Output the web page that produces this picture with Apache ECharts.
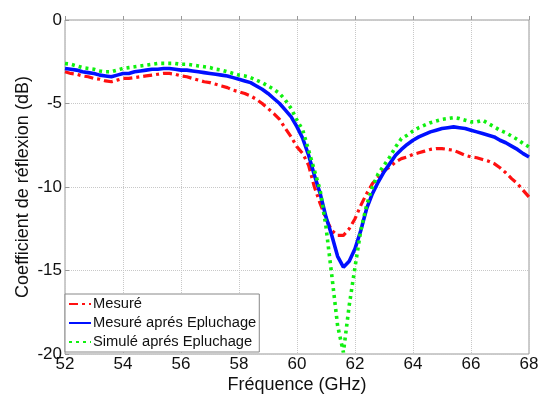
<!DOCTYPE html>
<html><head><meta charset="utf-8">
<script src="https://cdn.jsdelivr.net/npm/echarts@6/dist/echarts.min.js"></script>
<style>html,body{margin:0;padding:0;background:#fff}#c{width:543px;height:394px}</style>
</head><body><div id="c"></div>
<script>
const freq = [52.0,52.2,52.4,52.6,52.8,53.0,53.2,53.4,53.6,53.8,54.0,54.2,54.4,54.6,54.8,55.0,55.2,55.4,55.6,55.8,
56.0,56.2,56.4,56.6,56.8,57.0,57.2,57.4,57.6,57.8,58.0,58.2,58.4,58.6,58.8,59.0,59.2,59.4,59.6,59.8,
60.0,60.2,60.4,60.6,60.8,61.0,61.2,61.4,61.6,61.8,62.0,62.2,62.4,62.6,62.8,63.0,63.2,63.4,63.6,63.8,
64.0,64.2,64.4,64.6,64.8,65.0,65.2,65.4,65.6,65.8,66.0,66.2,66.4,66.6,66.8,67.0,67.2,67.4,67.6,67.8,68.0];

const mesure = [-3.1,-3.2,-3.25,-3.35,-3.4,-3.5,-3.55,-3.65,-3.7,-3.6,-3.5,-3.5,-3.45,-3.4,-3.35,-3.3,-3.25,-3.2,-3.2,-3.25,
-3.35,-3.4,-3.5,-3.6,-3.7,-3.75,-3.85,-3.95,-4.05,-4.2,-4.3,-4.4,-4.55,-4.75,-5.0,-5.3,-5.6,-5.95,-6.5,-7.0,
-7.6,-8.0,-8.7,-10.0,-11.0,-11.9,-12.6,-12.9,-12.9,-12.5,-11.9,-11.1,-10.4,-9.8,-9.4,-9.0,-8.8,-8.5,-8.3,-8.2,
-8.05,-7.95,-7.85,-7.75,-7.7,-7.7,-7.75,-7.8,-7.95,-8.1,-8.2,-8.25,-8.35,-8.45,-8.6,-8.85,-9.15,-9.5,-9.8,-10.2,-10.6];

const mesureEpl = [-2.9,-2.95,-3.0,-3.1,-3.15,-3.2,-3.3,-3.35,-3.4,-3.3,-3.2,-3.2,-3.1,-3.05,-3.0,-2.95,-2.95,-2.9,-2.9,-2.95,
-3.0,-3.0,-3.05,-3.1,-3.15,-3.2,-3.25,-3.3,-3.35,-3.45,-3.55,-3.65,-3.75,-3.95,-4.15,-4.4,-4.7,-5.0,-5.4,-5.8,
-6.4,-7.1,-8.1,-9.3,-10.4,-11.8,-12.9,-14.15,-14.8,-14.45,-13.7,-12.6,-11.3,-10.4,-9.7,-9.1,-8.6,-8.1,-7.75,-7.45,
-7.2,-7.0,-6.85,-6.7,-6.6,-6.5,-6.45,-6.4,-6.45,-6.5,-6.6,-6.7,-6.8,-6.9,-7.0,-7.2,-7.35,-7.55,-7.75,-8.0,-8.2];

const simuleEpl = [-2.6,-2.65,-2.75,-2.85,-2.9,-2.95,-3.05,-3.1,-3.1,-3.0,-2.9,-2.85,-2.8,-2.75,-2.7,-2.65,-2.6,-2.6,-2.6,-2.6,
-2.65,-2.65,-2.7,-2.75,-2.8,-2.85,-2.95,-3.0,-3.1,-3.2,-3.3,-3.35,-3.45,-3.6,-3.75,-3.95,-4.15,-4.4,-4.8,-5.3,
-6.0,-6.6,-7.8,-9.0,-10.2,-12.4,-15.3,-18.3,-19.9,-17.1,-14.8,-12.6,-11.1,-10.0,-9.2,-8.7,-8.2,-7.6,-7.1,-6.9,
-6.65,-6.45,-6.3,-6.15,-6.05,-5.95,-5.9,-5.85,-5.9,-6.0,-6.1,-6.1,-6.0,-6.2,-6.4,-6.6,-6.75,-6.95,-7.15,-7.4,-7.6];

const names = ['Mesuré','Mesuré aprés Epluchage','Simulé aprés Epluchage'];
const pair = arr => freq.map((f,i)=>[f,arr[i]]);

const font = 'Liberation Sans, Arial, sans-serif';
const chart = echarts.init(document.getElementById('c'), null, {renderer:'canvas'});
chart.setOption({
  animation:false,
  backgroundColor:'#fff',
  grid:{left:65,right:14,top:20,bottom:40,outerBoundsMode:'none',containLabel:false,
        show:true,borderColor:'#999',borderWidth:1,backgroundColor:'transparent'},
  legend:{
    orient:'vertical',left:65,top:294,
    backgroundColor:'#fff',borderColor:'#888',borderWidth:1,padding:[2,3],
    itemWidth:22,itemHeight:14,itemGap:3,
    itemStyle:{opacity:0},
    textStyle:{fontFamily:font,fontSize:14.7,color:'#111',lineHeight:16,padding:[0,0,0,-3]},
    data:names
  },
  xAxis:{
    type:'value',min:52,max:68,interval:2,
    name:'Fréquence (GHz)',nameLocation:'middle',nameGap:22,nameMoveOverlap:false,
    nameTextStyle:{fontFamily:font,fontSize:18,color:'#111'},
    axisLine:{show:false},
    axisTick:{show:true,inside:true,length:4,lineStyle:{color:'#999'}},
    axisLabel:{fontFamily:font,fontSize:17,color:'#111',margin:2},
    splitLine:{show:true,lineStyle:{color:'#c8c8c8',type:'dotted',width:1}}
  },
  yAxis:{
    type:'value',min:-20,max:0,interval:5,
    name:'Coefficient de réflexion (dB)',nameLocation:'middle',nameGap:33,nameMoveOverlap:false,
    nameTextStyle:{fontFamily:font,fontSize:18,color:'#111'},
    axisLine:{show:false},
    axisTick:{show:true,inside:true,length:4,lineStyle:{color:'#999'}},
    axisLabel:{fontFamily:font,fontSize:17,color:'#111',margin:3},
    splitLine:{show:true,lineStyle:{color:'#c8c8c8',type:'dotted',width:1}}
  },
  series:[
    {name:names[0],type:'line',data:pair(mesure),showSymbol:false,symbol:'none',z:2,
     lineStyle:{color:'#ff1010',width:3.2,type:[9,4,3,4]},itemStyle:{color:'#ff1010'}},
    {name:names[1],type:'line',data:pair(mesureEpl),showSymbol:false,symbol:'none',z:3,
     lineStyle:{color:'#0010ff',width:3.6,type:'solid'},itemStyle:{color:'#0010ff'}},
    {name:names[2],type:'line',data:pair(simuleEpl),showSymbol:false,symbol:'none',z:4,
     lineStyle:{color:'#10f010',width:3.6,type:[3,4]},itemStyle:{color:'#10f010'}}
  ]
});
</script></body></html>
